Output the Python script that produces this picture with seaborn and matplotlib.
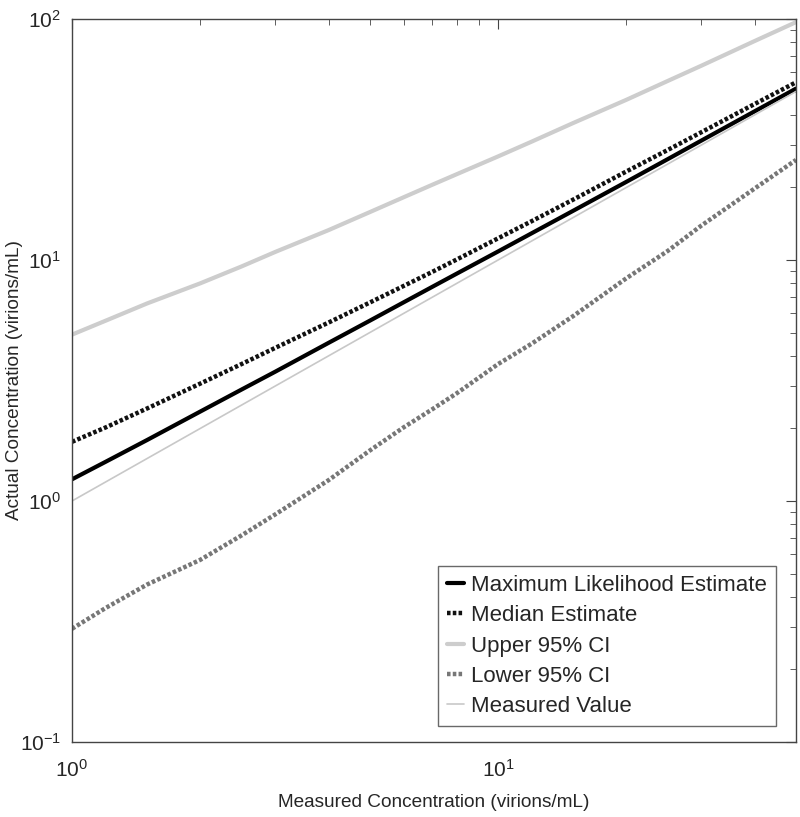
"""
Actual vs measured concentration: MLE, median and 95% CI curves.
"""
import pandas as pd
import matplotlib
matplotlib.use("Agg")
import matplotlib.pyplot as plt
import seaborn as sns

# === DATA ===
measured = [1, 1.2, 1.5, 2, 2.5, 3, 4, 5, 6, 7, 8, 10, 12, 15, 20, 25, 30, 40, 50]
mle = [1.23, 1.455, 1.79, 2.35, 2.90, 3.44, 4.53, 5.60, 6.67, 7.73, 8.78, 10.85, 12.92, 16.0, 21.1, 26.2, 31.3, 41.4, 51.4]
median = [1.76, 2.02, 2.42, 3.07, 3.70, 4.32, 5.50, 6.66, 7.80, 8.92, 10.05, 12.3, 14.5, 17.8, 23.3, 28.6, 33.9, 44.4, 54.6]
upper = [4.9, 5.6, 6.6, 8.0, 9.4, 10.8, 13.3, 15.8, 18.2, 20.5, 22.7, 26.9, 31.0, 37.0, 46.2, 55.3, 64.0, 81.0, 97.0]
lower = [0.295, 0.36, 0.45, 0.57, 0.72, 0.88, 1.22, 1.62, 2.02, 2.40, 2.80, 3.70, 4.50, 5.85, 8.4, 10.9, 13.9, 19.8, 26.0]

LABELS = ["Maximum Likelihood Estimate", "Median Estimate", "Upper 95% CI",
          "Lower 95% CI", "Measured Value"]
STYLES = {
    "Maximum Likelihood Estimate": dict(color="#000000", lw=3.0, ls="-"),
    "Median Estimate": dict(color="#111111", lw=3.2, ls=(0, (0.8, 0.5))),
    "Upper 95% CI": dict(color="#cdcdcd", lw=3.0, ls="-"),
    "Lower 95% CI": dict(color="#777777", lw=3.2, ls=(0, (0.8, 0.5))),
    "Measured Value": dict(color="#c8c8c8", lw=1.2, ls="-"),
}


def build_frame():
    series = [mle, median, upper, lower, measured]
    rows = []
    for name, ys in zip(LABELS, series):
        for x, y in zip(measured, ys):
            rows.append({"measured": x, "actual": y, "series": name})
    return pd.DataFrame(rows)


def main():
    sns.set_style("white")
    plt.rcParams["font.family"] = ["Liberation Sans", "DejaVu Sans"]
    plt.rcParams["mathtext.fontset"] = "custom"
    plt.rcParams["mathtext.rm"] = "Liberation Sans"
    plt.rcParams["mathtext.it"] = "Liberation Sans"

    df = build_frame()
    fig = plt.figure(figsize=(8.0, 8.17), dpi=100)
    ax = fig.add_axes([0.09, 0.0918, 0.905, 0.885])

    for name in LABELS:
        sub = df[df["series"] == name]
        st = STYLES[name]
        sns.lineplot(data=sub, x="measured", y="actual", ax=ax, color=st["color"],
                     linewidth=st["lw"], linestyle=st["ls"], label=name,
                     estimator=None, sort=False)

    ax.set_xscale("log")
    ax.set_yscale("log")
    ax.set_xlim(1, 50)
    ax.set_ylim(0.1, 100)
    ax.set_xlabel("Measured Concentration (virions/mL)", fontsize=13.7, labelpad=10)
    ax.set_ylabel("Actual Concentration (virions/mL)", fontsize=13.7)
    ax.yaxis.set_label_coords(-0.068, 0.5)

    ax.tick_params(which="both", direction="in", top=True, right=True,
                   labelsize=15, color="#444444")
    ax.tick_params(axis="x", which="major", pad=12)
    ax.tick_params(axis="y", which="major", pad=8)
    ax.tick_params(which="major", length=7)
    ax.tick_params(which="minor", length=4)
    for sp in ax.spines.values():
        sp.set_color("#444444")
        sp.set_linewidth(1.0)

    leg = ax.legend(loc="lower right", fontsize=16, frameon=True, fancybox=False,
                    handlelength=0.8, handletextpad=0.3, borderpad=0.4,
                    borderaxespad=0.0, labelspacing=0.42,
                    bbox_to_anchor=(0.972, 0.022))
    leg.get_frame().set_edgecolor("#444444")
    leg.get_frame().set_linewidth(1.0)

    fig.savefig("out.png", dpi=100)
    plt.close(fig)


if __name__ == "__main__":
    main()
